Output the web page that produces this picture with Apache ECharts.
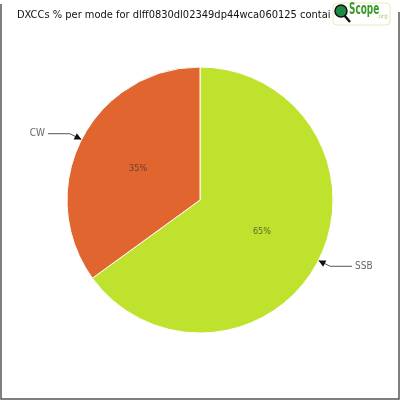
<!DOCTYPE html>
<html>
<head>
<meta charset="utf-8">
<script src="https://cdn.jsdelivr.net/npm/echarts@6/dist/echarts.min.js"></script>
<style>
  html, body { margin: 0; padding: 0; background: #fff; }
  #chart { width: 400px; height: 400px; }
</style>
</head>
<body>
<div id="chart"></div>
<script>
// data
const modes = ["SSB", "CW"];
const percents = [65, 35];
const sliceColors = ["#bfe22f", "#e1652f"];
const titleText = "DXCCs % per mode for dlff0830dl02349dp44wca060125 contai";

const FONT = "DejaVu Sans Condensed";

const chart = echarts.init(document.getElementById("chart"));

const pieData = modes.map((m, i) => ({
  name: m,
  value: percents[i],
  itemStyle: { color: sliceColors[i] }
}));

const baseSeries = {
  type: "pie",
  center: ["50%", "50%"],
  radius: 133,
  startAngle: 90,
  clockwise: true,
  animation: false
};

chart.setOption({
  backgroundColor: "#fff",
  title: {
    text: titleText,
    left: 12,
    top: 5,
    textStyle: { fontFamily: FONT, fontSize: 11, fontWeight: "normal", color: "#111" }
  },
  series: [
    Object.assign({}, baseSeries, {
      data: pieData,
      itemStyle: { borderColor: "#fff", borderWidth: 1 },
      label: {
        show: true,
        position: "inner",
        formatter: "{c}%",
        fontFamily: FONT,
        fontSize: 9,
        color: "rgba(50,50,50,0.7)"
      },
      labelLine: { show: false },
      emphasis: { disabled: true }
    }),
    Object.assign({}, baseSeries, {
      silent: true,
      data: pieData.map(d => ({ name: d.name, value: d.value, itemStyle: { color: "transparent" } })),
      label: {
        show: true,
        position: "outside",
        formatter: "{b}",
        fontFamily: FONT,
        fontSize: 10,
        color: "#666",
        distanceToLabelLine: 3
      },
      labelLine: {
        show: true,
        length: 13,
        length2: 22,
        lineStyle: { color: "#555", width: 1 }
      },
      emphasis: { disabled: true }
    })
  ]
});

// arrow heads at the outer edge of each slice, taken from the pie layout
const layoutData = chart.getModel().getSeriesByIndex(0).getData();
const arrows = [];
for (let i = 0; i < layoutData.count(); i++) {
  const l = layoutData.getItemLayout(i);
  const mid = (l.startAngle + l.endAngle) / 2;
  const dx = Math.cos(mid), dy = Math.sin(mid);
  const tx = l.cx + l.r * dx, ty = l.cy + l.r * dy;
  const len = 7, half = 3.5;
  const bx = tx + dx * len, by = ty + dy * len;
  arrows.push({
    type: "polygon",
    silent: true,
    shape: { points: [[tx, ty], [bx - dy * half, by + dx * half], [bx + dy * half, by - dx * half]] },
    style: { fill: "#111" },
    z: 10
  });
}

chart.setOption({
  graphic: arrows.concat([
    // frame
    { type: "polyline", silent: true, shape: { points: [[1, 4], [1, 399], [399, 399], [399, 12]] },
      style: { stroke: "#555", lineWidth: 1.5, fill: null } },
    // logo
    { type: "rect", silent: true, shape: { x: 333, y: 3, width: 57, height: 22, r: 4 },
      style: { fill: "#fff", stroke: "#e4edb8", lineWidth: 1 } },
    { type: "line", silent: true, shape: { x1: 344, y1: 15, x2: 350, y2: 22 },
      style: { stroke: "#111", lineWidth: 2.5 } },
    { type: "circle", silent: true, shape: { cx: 341, cy: 11, r: 6 },
      style: { fill: "#1f8a43", stroke: "#111", lineWidth: 1.5 } },
    { type: "text", silent: true, x: 349, y: 3, scaleX: 0.66,
      style: { text: "Scope", fontFamily: FONT, fontSize: 15, fontWeight: "bold", fill: "#3c9a2a" } },
    { type: "text", silent: true, x: 377, y: 13,
      style: { text: ".org", fontFamily: FONT, fontSize: 6, fill: "#a6d16a" } }
  ])
});
</script>
</body>
</html>
